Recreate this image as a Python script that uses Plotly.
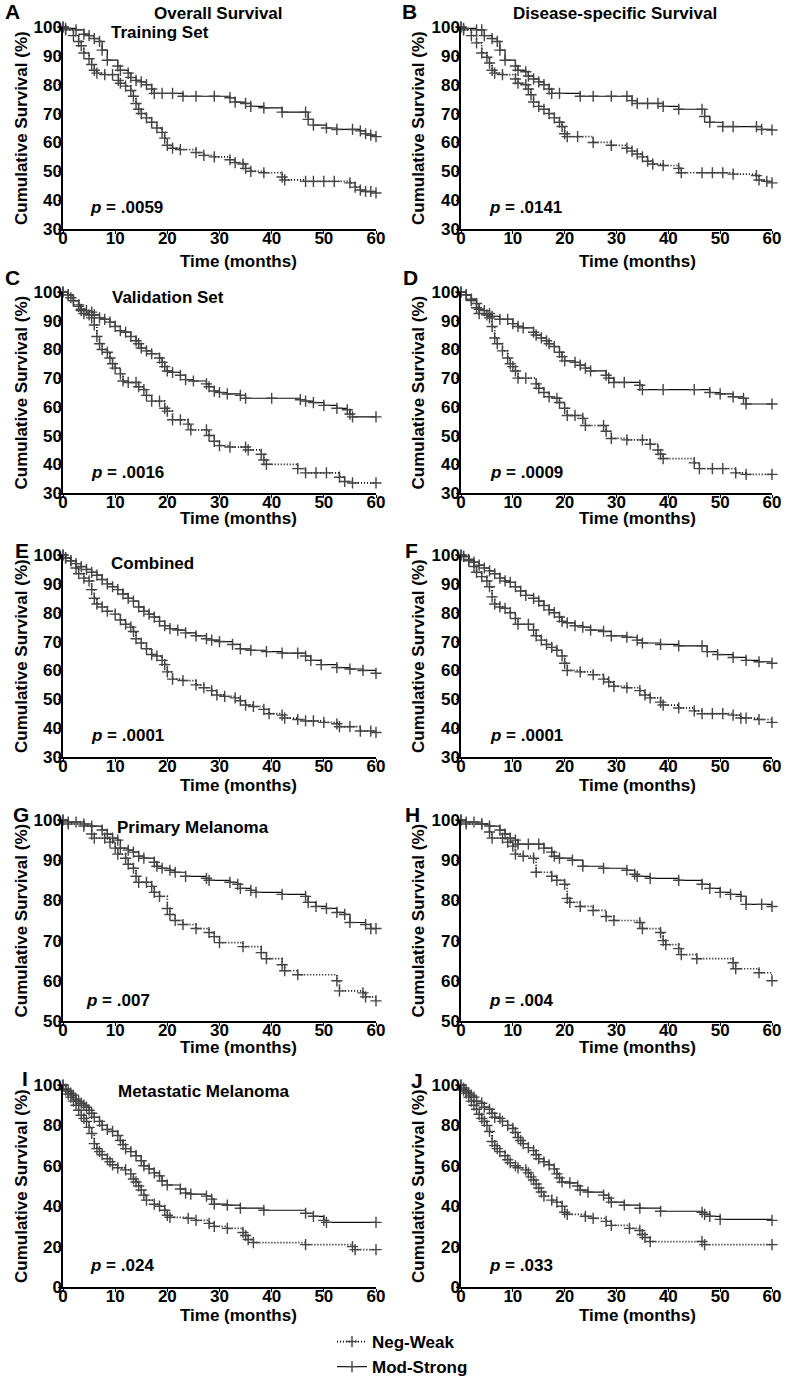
import plotly.graph_objects as go

# ---------------- data: Kaplan-Meier steps (time in months, survival %) ----------------
# A: Overall survival, training set
a_neg_t = [0, 0.5, 2, 3, 3.5, 4, 5, 5.5, 6, 6.5, 8, 9.5, 10.6, 11, 12, 13, 13.5, 14, 14.5, 15, 16, 17, 18, 19, 19.5, 20, 21, 22.5, 25.5, 27, 29, 32, 33, 34.5, 35, 36, 38.5, 42, 42.5, 46.5, 48, 50, 52, 55, 56, 57, 58, 59, 60]
a_neg_s = [100, 99, 97, 95, 93.5, 91, 89, 87, 85, 84, 83.5, 83.5, 81.5, 80.5, 79.5, 78, 76, 73.5, 71.5, 70, 68.5, 67, 65, 63.5, 61.5, 59, 58, 57.5, 56.5, 55.5, 55, 54, 53, 52.5, 51, 50, 49.5, 48, 47, 46.5, 46.5, 46.5, 46.5, 46, 44.5, 43.5, 43, 43, 42.5]
a_mod_t = [0, 0.5, 2.5, 4, 5, 6, 7, 7.5, 8.5, 10.5, 11, 12.5, 13, 14, 15, 16, 17, 17.5, 19, 21, 23, 25.5, 29, 32, 33, 35, 36, 38.5, 42, 46.5, 47, 48, 50.5, 52.5, 55.5, 57, 58, 59, 60]
a_mod_s = [100, 99.5, 99, 97.5, 97, 96, 95, 92, 88.5, 86.5, 85, 84, 82.5, 81.5, 81, 80, 78.5, 77, 77, 77, 76, 76, 76, 75.5, 74, 73.5, 72.5, 72, 70.5, 70.5, 68, 66, 65, 64.5, 64.5, 64, 63, 62.5, 62]

# B: Disease-specific survival, training set
b_neg_t = [0, 0.5, 2, 3, 4, 5, 5.5, 6, 6.5, 8, 10.5, 11, 12.5, 13, 13.5, 14, 15, 16, 17, 18, 19, 19.5, 20, 20.5, 22.5, 25.5, 29, 32, 33, 34, 35, 36, 37, 39, 42, 42.5, 46.5, 48.5, 50.5, 52.5, 57, 57.5, 59, 60]
b_neg_s = [100, 99, 97, 94.5, 91, 89.5, 87.5, 85, 84, 83.5, 82, 80.5, 80, 78.5, 76.5, 74, 72.5, 71.5, 70, 68.5, 67, 65.5, 63, 62, 62, 60, 59, 58, 57, 56, 55, 53.5, 52.5, 52, 51, 49.5, 49.5, 49.5, 49.5, 49, 48.5, 47, 46.5, 46]
b_mod_t = [0, 0.5, 3, 4, 4.5, 6, 7, 7.5, 8.5, 10.5, 11, 12.5, 13, 14, 15, 16, 17, 17.5, 19, 23, 25.5, 29, 32, 33, 34, 36, 38, 39, 42, 46.5, 47, 48, 50.5, 52.5, 57, 58, 60]
b_mod_s = [100, 99.5, 99, 99, 97, 96, 95, 92, 88.5, 86.5, 85, 84.5, 83, 82, 81, 80, 78.5, 77, 77, 76, 76, 76, 76, 74.5, 73.5, 73.5, 73.5, 72.5, 71.5, 71.5, 69, 67, 65.5, 65.5, 65.5, 64.5, 64.3]

# C: Overall survival, validation set
c_neg_t = [0, 1, 2, 3, 3.5, 4, 5, 5.5, 6, 6.5, 7, 7.5, 8.5, 9, 9.5, 10, 11, 11.5, 12.5, 14, 14.5, 15.5, 16, 17, 18.5, 19.5, 20, 21, 22.5, 24, 24.5, 27.5, 28, 29, 30, 32, 35, 35.5, 38, 38.5, 39, 45, 46.5, 48.5, 50.5, 53, 54, 55.5, 60]
c_neg_s = [100, 99, 97, 95, 93.5, 92.5, 92, 91, 88.5, 84.5, 82, 80, 79, 77, 75, 73.5, 71.5, 69, 68.5, 68.5, 67, 66, 64, 62, 62, 59.5, 58.5, 55.5, 55.5, 54, 52, 52, 50, 48, 46.5, 46, 46, 45, 43.5, 41.5, 40, 38.5, 37, 37, 37, 35.5, 34, 33.5, 33.5]
c_mod_t = [0, 1, 1.5, 2, 3, 3.5, 4.5, 5.5, 6, 7, 8, 9, 10, 11, 12, 13, 14, 14.5, 15, 16, 17, 18.5, 19, 19.5, 20, 21, 22.5, 23.5, 25, 27.5, 28, 29, 30, 31.5, 34, 35, 40, 45.5, 46.5, 48, 50, 52.5, 54.5, 55, 55.5, 60]
c_mod_s = [100, 99, 98, 97, 95.5, 94, 93.5, 93, 92, 91, 90.5, 89.5, 88, 86.5, 86, 84.5, 83, 82, 80.5, 79.5, 78.5, 77, 75.5, 74, 72.5, 72, 71, 69.5, 69, 68, 67, 65.5, 65, 64.5, 64, 63, 63, 62.5, 62, 61.5, 60.5, 59.5, 59, 57.5, 56.5, 56.5]

# D: Disease-specific survival, validation set
d_neg_t = [0, 1, 2, 3, 3.5, 5, 5.5, 6, 6.5, 7, 8, 9, 9.5, 10, 10.5, 11, 12.5, 14.5, 15, 16, 17, 18.5, 19, 20, 20.5, 22, 23.5, 24, 27.5, 28, 29, 32, 35, 36.5, 38, 38.5, 39, 45, 46, 48.5, 50.5, 53, 55, 60]
d_neg_s = [100, 99, 97, 94.5, 92.5, 92, 91, 88, 84, 82, 79.5, 77, 75, 74, 72.5, 70, 70, 68, 66.5, 65, 63.5, 63, 61.5, 59.5, 57, 57, 56, 53.5, 53.5, 51.5, 49, 48.5, 48.5, 47, 45, 43.5, 42, 40.5, 38.5, 38.5, 38.5, 37, 36.5, 36.5]
d_mod_t = [0, 1, 2, 3, 3.5, 4.5, 5.5, 6, 7.5, 9, 10, 11, 12, 14, 14.5, 15.5, 16.5, 17, 18, 19, 19.5, 20, 22, 23, 24, 25, 28, 28.5, 29.5, 31.5, 34.5, 35, 39, 45, 48, 50, 52.5, 54.5, 55, 60]
d_mod_s = [100, 99, 97.5, 96, 94, 93.5, 92.5, 91.5, 90.5, 90.5, 89, 88, 87.5, 86, 85, 84, 83, 82, 81, 79, 77.5, 76, 75.5, 74.5, 73.5, 72.5, 71, 70, 68.5, 68.5, 67.5, 66, 66, 66, 65, 64.5, 63.5, 63, 61, 61]

# E: Overall survival, combined
e_neg_t = [0, 0.5, 1.5, 2.5, 3, 4, 5, 5.5, 6, 6.5, 7.5, 8.5, 10, 11, 12, 13, 13.5, 14, 15, 16, 17, 18, 19, 19.5, 20, 21, 23, 25.5, 27, 28.5, 29.5, 31, 33, 34, 35, 36.5, 38.5, 39.5, 42, 42.5, 45, 46.5, 48, 50, 52.5, 53, 55, 57, 59, 60]
e_neg_s = [100, 99, 98, 95.5, 93.5, 92, 91, 88, 85, 83, 82, 80.5, 79.5, 77.5, 76, 75, 73.5, 71, 69.5, 67.5, 65.5, 65, 63.5, 62, 59.5, 57, 56.5, 55, 54, 53, 51.5, 51, 50.5, 49.5, 48, 47.5, 46.5, 45, 44.5, 43.5, 43, 42.5, 42.5, 42, 41.5, 40.5, 40.5, 39, 39, 38.5]
e_mod_t = [0, 0.5, 1.5, 2.5, 3.5, 4.5, 5.5, 6.5, 7.5, 8.5, 9.5, 10.5, 11.5, 12.5, 13.5, 14.5, 15.5, 16.5, 17.5, 18.5, 19.5, 20.5, 22, 23.5, 25.5, 27.5, 28.5, 30, 32.5, 34, 36, 39, 42, 45, 46.5, 47.5, 49.5, 52.5, 55, 57.5, 60]
e_mod_s = [100, 99, 98, 97, 96, 95, 94, 93, 91.5, 90, 89, 88, 86.5, 85, 84, 82, 80.5, 79.5, 78.5, 77, 75.5, 74.5, 74, 73, 72, 71, 70.5, 70, 69, 67.5, 67, 66.5, 66, 66, 65, 63.5, 62, 61, 60.5, 60, 59]

# F: Disease-specific survival, combined
f_neg_t = [0, 0.5, 1.5, 2.5, 3, 4, 5, 5.5, 6, 6.5, 7.5, 8.5, 9.5, 10.5, 11, 13, 14, 14.5, 15.5, 16.5, 17.5, 18.5, 19.5, 20, 20.5, 23, 25.5, 27.5, 28.5, 29.5, 32, 34.5, 35.5, 36.5, 38.5, 39, 42, 45, 46.5, 48.5, 50.5, 52.5, 54, 55, 57.5, 60]
f_neg_s = [100, 99.5, 98, 96, 94, 92.5, 91, 89, 85.5, 83, 82, 81.5, 80, 78, 76, 76, 74, 72, 70.5, 69, 68, 67, 65, 62.5, 60, 59.5, 58.5, 57, 56, 54.5, 54, 53, 51.5, 50.5, 49, 48, 47, 46, 45, 45, 45, 44.5, 43.5, 43.5, 43, 42]
f_mod_t = [0, 0.5, 1.5, 2.5, 3.5, 4.5, 5.5, 6.5, 7.5, 8.5, 9.5, 10.5, 11.5, 12.5, 14, 15, 16, 17, 18, 19, 19.5, 20.5, 22, 23.5, 25, 27.5, 29, 32, 34, 35, 38.5, 42, 46.5, 47.5, 49.5, 52.5, 55, 57.5, 60]
f_mod_s = [100, 99.5, 98.5, 97.5, 96.5, 95.5, 94.5, 93.5, 92, 91, 90.5, 89, 87.5, 86, 85, 84, 82.5, 81, 80, 78.5, 77, 76.5, 75.5, 75, 74, 73.5, 72, 71.5, 70.5, 69.5, 69, 68.5, 68.5, 66.5, 65.5, 64.5, 63.5, 63, 62.5]

# G: Overall survival, primary melanoma
g_neg_t = [0, 1, 4, 5.5, 6, 8, 9, 10, 10.5, 12, 12.5, 13.5, 14, 14.5, 16, 17, 17.5, 18.5, 20, 20.5, 21.5, 23, 25.5, 28, 29, 30, 34.5, 38, 39, 42, 42.5, 45, 52.5, 53, 57.5, 58, 60]
g_neg_s = [100, 99, 98.5, 96.5, 95.5, 95.5, 94.5, 93, 91.5, 90.5, 89, 88, 86, 84.5, 84.5, 83.5, 82, 81, 78, 76.5, 75, 74, 73, 72, 71, 69.5, 68.5, 67, 65.5, 64, 62.5, 61.5, 60, 57.5, 57, 56, 55]
g_mod_t = [0, 1, 2.5, 4, 5.5, 7.5, 8.5, 9.5, 10.5, 11, 12.5, 13.5, 14.5, 15.5, 17.5, 18, 19, 20.5, 21.5, 23.5, 27.5, 28, 32, 33.5, 34, 36, 37, 42, 46.5, 47, 48.5, 50.5, 52.5, 54, 55, 58, 59, 60]
g_mod_s = [100, 99.5, 99.5, 99, 98.5, 97.5, 96.5, 95.5, 95, 93, 92.5, 92, 91, 90.5, 89.5, 88.5, 88, 87.5, 87, 86, 85.5, 85, 84.5, 84, 83, 82.5, 82, 81.5, 81, 79.5, 78.5, 78, 77, 76.5, 74.5, 74, 73, 73]

# H: Disease-specific survival, primary melanoma
h_neg_t = [0, 1, 4, 5.5, 6, 8, 9, 10, 10.5, 12, 14, 14.5, 17.5, 18.5, 20, 20.5, 21, 23, 25.5, 28, 29.5, 34.5, 35, 38.5, 39, 39.5, 42, 42.5, 45.5, 52.5, 53, 57.5, 60]
h_neg_s = [100, 99, 99, 97, 95.5, 95.5, 94.5, 93.5, 91.5, 91, 90.5, 87, 86, 85, 84, 80.5, 79.5, 78.5, 77.5, 76, 75, 74.5, 73, 72, 70, 69, 68, 66.5, 65.5, 64.5, 63, 62, 60]
h_mod_t = [0, 1, 2.5, 4, 5.5, 7.5, 8.5, 9.5, 10.5, 11, 13, 15, 16, 17.5, 18, 19, 21.5, 23.5, 27.5, 32, 33.5, 34, 36.5, 42, 46.5, 48, 50, 52, 54, 55, 58, 60]
h_mod_s = [100, 99.5, 99.5, 99, 98.5, 97.5, 96.5, 95.5, 95, 94, 94, 94, 93, 92, 91, 90.5, 90, 88.5, 88, 87.5, 86.5, 86, 85.5, 85, 84, 83, 82, 81.5, 81, 79, 79, 78.5]

# I: Overall survival, metastatic melanoma
i_neg_t = [0, 0.5, 1, 1.5, 2, 2.5, 3, 3.5, 4, 4.5, 5, 5.5, 6, 6.5, 7, 7.5, 8.5, 9, 9.5, 10.5, 12, 13, 13.5, 14, 14.5, 15, 15.5, 16, 17.5, 18.5, 19.5, 20, 20.5, 24, 25.5, 28, 29, 31.5, 34.5, 35, 35.5, 36.5, 46.5, 55.5, 56, 60]
i_neg_s = [100, 97.5, 95.5, 94, 92, 90, 87.5, 85, 83.5, 82, 79, 76, 71, 68.5, 67, 65.5, 63.5, 62, 60.5, 59, 58, 56, 53.5, 52, 50, 48, 45.5, 43, 41, 40, 38, 35.5, 34.5, 34, 33, 31.5, 30, 29, 27, 25.5, 23.5, 22, 21, 20, 18.5, 18.5]
i_mod_t = [0, 0.5, 1, 1.5, 2, 2.5, 3, 3.5, 4, 4.5, 5, 5.5, 6, 7, 7.5, 8.5, 9.5, 10.5, 11, 11.5, 12, 13, 14, 15, 15.5, 16.5, 17.5, 18.5, 19, 20, 22.5, 23.5, 24.5, 27.5, 28.5, 29, 31.5, 34, 38.5, 46.5, 48, 50, 50.5, 60]
i_mod_s = [100, 98, 97, 96, 95, 93, 92, 91, 90, 89, 87.5, 86, 84, 82, 80, 78, 77, 75, 72.5, 70.5, 68.5, 67, 65, 62.5, 60, 58.5, 56.5, 55, 52.5, 50.5, 48.5, 46.5, 46, 45, 43.5, 41, 40.5, 39, 38, 36.5, 35, 33, 32, 32]

# J: Disease-specific survival, metastatic melanoma
j_neg_t = [0, 0.5, 1, 1.5, 2, 2.5, 3, 3.5, 4, 4.5, 5, 5.5, 6, 6.5, 7, 7.5, 8.5, 9, 9.5, 10.5, 11, 12.5, 13, 13.5, 14, 14.5, 15, 15.5, 16, 17.5, 18.5, 19.5, 20, 20.5, 24, 25.5, 28, 29, 32.5, 34.5, 35, 35.5, 36.5, 46.5, 47, 60]
j_neg_s = [100, 97.5, 96, 94, 92, 90, 88, 85.5, 83.5, 82, 80, 77, 72, 70, 68.5, 67, 65, 63, 61.5, 60, 59, 58, 56.5, 54.5, 53, 51, 49, 47, 45, 43, 42, 40, 37, 36, 35, 34, 32.5, 30.5, 29, 28, 26, 24.5, 22.5, 22.5, 21, 21]
j_mod_t = [0, 0.5, 1, 1.5, 2, 2.5, 3, 4, 4.5, 5.5, 6, 6.5, 7.5, 8, 9, 10, 10.5, 11, 11.5, 12, 13, 14, 14.5, 15, 16, 17, 18, 18.5, 19, 19.5, 21, 22.5, 23, 24.5, 27.5, 28.5, 29, 31.5, 34.5, 38.5, 46.5, 47, 48, 50, 60]
j_mod_s = [100, 98.5, 97, 96, 95, 94, 92, 91, 89, 88, 86, 84, 83.5, 82, 80, 78.5, 76.5, 74, 72.5, 71, 69, 67.5, 65.5, 63.5, 62, 60.5, 58.5, 56, 54, 52, 51.5, 50, 48, 47, 45.5, 44, 42, 40.5, 39, 37.5, 37, 36, 35, 33.5, 33]

panel_letters = ["A", "B", "C", "D", "E", "F", "G", "H", "I", "J"]
p_values = [".0059", ".0141", ".0016", ".0009", ".0001", ".0001", ".007", ".004", ".024", ".033"]
series_names = ["Neg-Weak", "Mod-Strong"]
x_ticks = [0, 10, 20, 30, 40, 50, 60]
row_y_ranges = [[30, 100], [30, 100], [30, 100], [50, 100], [0, 100]]
row_y_dticks = [10, 10, 10, 10, 20]

curves = [
    (a_neg_t, a_neg_s, a_mod_t, a_mod_s), (b_neg_t, b_neg_s, b_mod_t, b_mod_s),
    (c_neg_t, c_neg_s, c_mod_t, c_mod_s), (d_neg_t, d_neg_s, d_mod_t, d_mod_s),
    (e_neg_t, e_neg_s, e_mod_t, e_mod_s), (f_neg_t, f_neg_s, f_mod_t, f_mod_s),
    (g_neg_t, g_neg_s, g_mod_t, g_mod_s), (h_neg_t, h_neg_s, h_mod_t, h_mod_s),
    (i_neg_t, i_neg_s, i_mod_t, i_mod_s), (j_neg_t, j_neg_s, j_mod_t, j_mod_s),
]

# ---------------- layout geometry (pixels) ----------------
W, H = 787, 1380
FONT = "Liberation Sans, Arial, Helvetica, sans-serif"
col_px = [(63, 376), (461, 772)]
row_px = [(27, 229), (292, 493), (555, 757), (820, 1021), (1085, 1287)]
letter_pos = [(12, 12), (409, 12), (12, 277), (410, 277), (22, 551), (411, 551),
              (21, 814), (412, 815), (25, 1078), (417, 1080)]
p_pos = [(88, 208), (487, 208), (89, 472), (488, 472), (89, 735), (488, 735),
         (84, 1000), (487, 1000), (88, 1265), (487, 1265)]
xtitle_y = [261, 518, 785, 1047, 1315]
xtitle_x = [238, 637]
ytitle_x = [21, 418]
subtitles = [("Overall Survival", 218, 14), ("Training Set", 160, 33),
             ("Disease-specific Survival", 615, 13), ("Validation Set", 168, 298),
             ("Combined", 152, 563), ("Primary Melanoma", 193, 827),
             ("Metastatic Melanoma", 204, 1091)]


def px(x):
    return x / W


def py(y):
    return 1 - y / H


fig = go.Figure()
annotations = []
bold = dict(family=FONT, size=17, color="black", weight="bold")

for k in range(10):
    r, c = divmod(k, 2)
    ax = "" if k == 0 else str(k + 1)
    nt, ns, mt, ms = curves[k]
    fig.add_trace(go.Scatter(
        x=nt, y=ns, mode="lines+markers", line_shape="hv", name=series_names[0],
        line=dict(color="#000000", width=1.7, dash="1px,2px"),
        marker=dict(symbol="cross-thin", size=8, line=dict(color="#444444", width=1.4)),
        xaxis="x" + ax, yaxis="y" + ax, cliponaxis=False,
        showlegend=(k == 0), legendrank=1))
    fig.add_trace(go.Scatter(
        x=mt, y=ms, mode="lines+markers", line_shape="hv", name=series_names[1],
        line=dict(color="#111111", width=1.2),
        marker=dict(symbol="cross-thin", size=8, line=dict(color="#444444", width=1.4)),
        xaxis="x" + ax, yaxis="y" + ax, cliponaxis=False,
        showlegend=(k == 0), legendrank=2))

    x0, x1 = col_px[c]
    y0, y1 = row_px[r]
    axis_common = dict(showline=True, linecolor="black", linewidth=1.5, showgrid=False,
                       zeroline=False, ticks="outside", ticklen=3, tickcolor="black",
                       tickwidth=1.2, tickfont=bold)
    fig.update_layout(**{
        "xaxis" + ax: dict(domain=[px(x0), px(x1)], anchor="y" + ax, range=[0, 60],
                           tickvals=x_ticks, ticklabelstandoff=-10, **axis_common),
        "yaxis" + ax: dict(domain=[py(y1), py(y0)], anchor="x" + ax,
                           range=row_y_ranges[r], dtick=row_y_dticks[r],
                           ticklabelstandoff=-7, **axis_common),
    })

    lx, ly = letter_pos[k]
    annotations.append(dict(text=panel_letters[k], x=px(lx), y=py(ly), xref="paper", yref="paper",
                            showarrow=False, xanchor="center", yanchor="middle",
                            font=dict(family=FONT, size=21, color="black", weight="bold")))
    ppx, ppy = p_pos[k]
    annotations.append(dict(text="<i>p</i> = " + p_values[k], x=px(ppx), y=py(ppy),
                            xref="paper", yref="paper", showarrow=False,
                            xanchor="left", yanchor="middle", font=bold))
    annotations.append(dict(text="Time (months)", x=px(xtitle_x[c]), y=py(xtitle_y[r]),
                            xref="paper", yref="paper", showarrow=False,
                            xanchor="center", yanchor="middle", font=bold))
    annotations.append(dict(text="Cumulative Survival (%)", x=px(ytitle_x[c]),
                            y=py((y0 + y1) / 2), xref="paper", yref="paper",
                            showarrow=False, textangle=-90, xanchor="center",
                            yanchor="middle", font=bold))

for text, sx, sy in subtitles:
    annotations.append(dict(text=text, x=px(sx), y=py(sy), xref="paper", yref="paper",
                            showarrow=False, xanchor="center", yanchor="middle", font=bold))

fig.update_layout(
    width=W, height=H,
    margin=dict(l=0, r=0, t=0, b=0, autoexpand=False),
    paper_bgcolor="white", plot_bgcolor="white",
    font=dict(family=FONT, color="black"),
    annotations=annotations,
    showlegend=True,
    legend=dict(x=px(332), y=py(1324), xanchor="left", yanchor="top",
                font=dict(family=FONT, size=17, color="black", weight="bold"),
                bgcolor="rgba(0,0,0,0)", itemwidth=30, tracegroupgap=0),
)

fig.write_html(
    "out.html",
    config={"displayModeBar": False},
    post_script="document.body.style.margin='0';document.documentElement.style.overflow='hidden';",
)
